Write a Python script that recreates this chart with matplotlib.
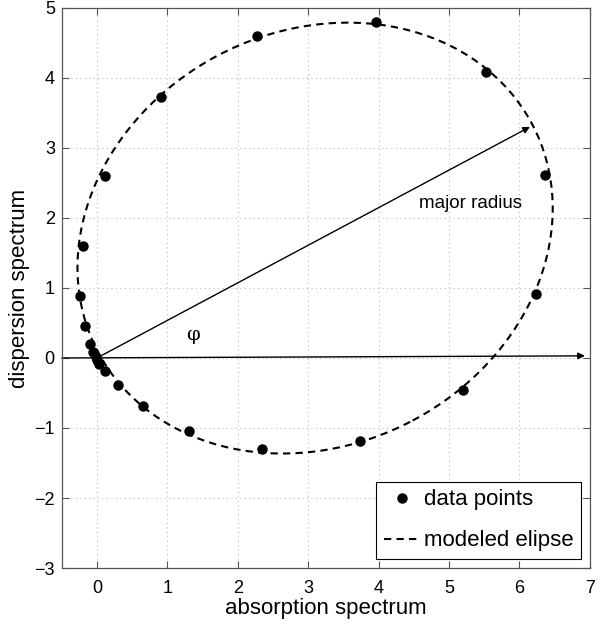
import matplotlib.pyplot as plt
from matplotlib.patches import Ellipse
from matplotlib.lines import Line2D

plt.rcParams['font.family'] = ['Liberation Sans', 'DejaVu Sans']

# measured points (absorption, dispersion)
absorption = [3.97, 2.27, 0.91, 0.11, -0.20, -0.24, -0.17, -0.10, -0.05,
              -0.02, 0.00, 0.03, 0.12, 0.30, 0.65, 1.31, 2.35, 3.74,
              5.20, 6.23, 6.37, 5.53]
dispersion = [4.80, 4.60, 3.72, 2.60, 1.60, 0.88, 0.45, 0.20, 0.08,
              0.02, -0.03, -0.08, -0.18, -0.38, -0.68, -1.05, -1.30, -1.19,
              -0.46, 0.91, 2.62, 4.08]

# modeled ellipse parameters
ell_center = (3.098, 1.712)
ell_semi_major = 3.486
ell_semi_minor = 2.951
ell_angle = 28.0  # degrees
major_tip = (6.15, 3.30)

xticks = [0, 1, 2, 3, 4, 5, 6, 7]
yticks = [-3, -2, -1, 0, 1, 2, 3, 4, 5]

dash = (0, (3.5, 2.5))

fig = plt.figure(figsize=(6.0, 6.28), dpi=100)
ax = fig.add_axes([0.103, 0.0955, 0.880, 0.892])

ell = Ellipse(ell_center, width=2 * ell_semi_major, height=2 * ell_semi_minor,
              angle=ell_angle, fill=False, ec='black', lw=1.5, ls=dash, zorder=3)
ax.add_patch(ell)

ax.plot(absorption, dispersion, 'o', color='black', ms=6.5, zorder=4)

arrow = dict(arrowstyle='-|>', color='black', lw=1.0, mutation_scale=10,
             shrinkA=0, shrinkB=0)
ax.annotate('', xy=major_tip, xytext=(0, 0), arrowprops=arrow, zorder=2)
ax.annotate('', xy=(6.93, 0.03), xytext=(-0.5, 0), arrowprops=arrow, zorder=2)

ax.text(1.36, 0.33, 'φ', fontsize=14, ha='center', va='center',
        family=['DejaVu Serif'])
ax.text(5.31, 2.21, 'major radius', fontsize=13.5, ha='center', va='center')

ax.set_xlim(-0.5, 7)
ax.set_ylim(-3, 5)
ax.set_xticks(xticks)
ax.set_yticks(yticks)
ax.tick_params(direction='in', top=True, right=True, labelsize=13,
               length=5, width=0.8, color='#555555')
ax.tick_params(axis='x', pad=8.5)
ax.tick_params(axis='y', pad=5)
ax.grid(True, ls=(0, (1, 3)), color='#bbbbbb', lw=0.8)
for s in ax.spines.values():
    s.set_color('#555555')
    s.set_linewidth(0.9)

ax.set_xlabel('absorption spectrum', fontsize=16, labelpad=1)
ax.set_ylabel('dispersion spectrum', fontsize=16, labelpad=3)

handles = [Line2D([], [], ls='none', marker='o', color='black', ms=6.5),
           Line2D([], [], color='black', lw=1.5, ls=dash)]
leg = ax.legend(handles, ['data points', 'modeled elipse'], loc='lower right',
                fontsize=16, fancybox=False, framealpha=1, edgecolor='black',
                borderaxespad=0.4, handlelength=1.7, handletextpad=0.1,
                labelspacing=0.9, borderpad=0.35)
leg.get_frame().set_linewidth(0.8)

fig.savefig('out.png', dpi=100)
